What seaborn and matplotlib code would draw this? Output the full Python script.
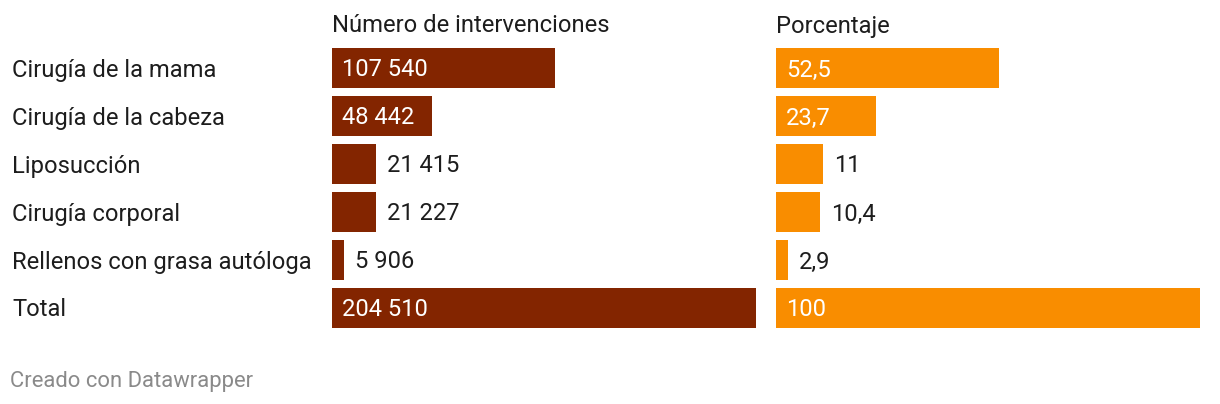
import matplotlib
matplotlib.use("Agg")
import matplotlib.pyplot as plt
import seaborn as sns
import pandas as pd

categories = ["Cirugía de la mama", "Cirugía de la cabeza", "Liposucción",
              "Cirugía corporal", "Rellenos con grasa autóloga", "Total"]
interventions = [107540, 48442, 21415, 21227, 5906, 204510]
percentages = [52.5, 23.7, 11.0, 10.4, 2.9, 100.0]
titles = ["Número de intervenciones", "Porcentaje"]
footer = "Creado con Datawrapper"

sns.set_theme(style="white")
plt.rcParams["font.family"] = ["Roboto", "DejaVu Sans"]

W, H = 1220, 404
fig = plt.figure(figsize=(W / 100, H / 100), dpi=100)

def fmt_int(v):
    return f"{int(v):,}".replace(",", " ")

def fmt_pct(v):
    return f"{v:g}".replace(".", ",")

df = pd.DataFrame({"cat": categories, "n": interventions, "p": percentages})

FS = 17.1
DY = 2 / 48
panels = [
    (332, 756, "n", "#832500", fmt_int, titles[0]),
    (776, 1200, "p", "#f98d00", fmt_pct, titles[1]),
]
top_px, bot_px = 44, 332
for i, (x0, x1, col, color, fmt, title) in enumerate(panels):
    ax = fig.add_axes([x0 / W, 1 - bot_px / H, (x1 - x0) / W, (bot_px - top_px) / H])
    sns.barplot(data=df, x=col, y="cat", color=color, width=0.833,
                saturation=1, linewidth=0, ax=ax, orient="h")
    vmax = df[col].max()
    ax.set_xlim(0, vmax)
    ax.set_ylim(len(categories) - 0.5, -0.5)
    for s in ax.spines.values():
        s.set_visible(False)
    ax.set_xticks([])
    ax.set_xlabel("")
    ax.set_ylabel("")
    pxu = vmax / (x1 - x0)
    for j, v in enumerate(df[col]):
        if v / vmax > 0.2:
            ax.text(10 * pxu, j + DY, fmt(v), color="white", va="center",
                    ha="left", fontsize=FS)
        else:
            ax.text(v + 11 * pxu, j + DY, fmt(v), color="#1d1d1d", va="center",
                    ha="left", fontsize=FS)
    if i == 0:
        ax.set_yticks(range(len(categories)))
        ax.set_yticklabels([])
        ax.tick_params(left=False)
        for j, c in enumerate(categories):
            ax.text(-(332 - 12) * pxu, j + DY, c, color="#1d1d1d", va="center",
                    ha="left", fontsize=FS, clip_on=False)
    else:
        ax.set_yticks([])
    ax.text(0, -0.5 - 18 / 48, title, color="#1d1d1d", va="center",
            ha="left", fontsize=FS, clip_on=False)

fig.text(10 / W, 1 - 382 / H, footer, color="#8a8a8a", fontsize=15.8,
         va="center", ha="left")

fig.savefig("out.png", dpi=100, facecolor="white")
